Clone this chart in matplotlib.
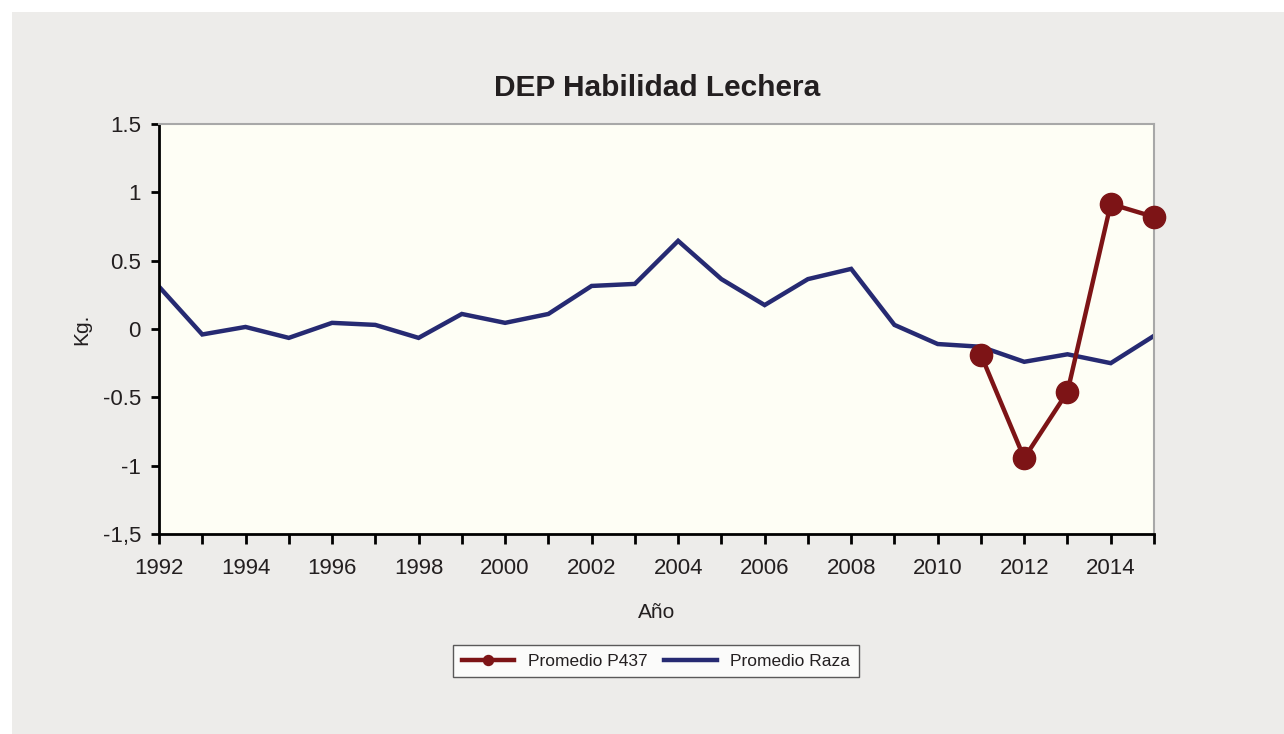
import matplotlib
matplotlib.use("Agg")
import matplotlib.pyplot as plt
from matplotlib.patches import Rectangle
from matplotlib.ticker import MultipleLocator

plt.rcParams['font.family'] = ['Liberation Sans', 'DejaVu Sans']

# datos
anios = list(range(1992, 2016))
promedio_raza = [0.31, -0.04, 0.015, -0.065, 0.045, 0.03, -0.065, 0.11, 0.045, 0.11,
                 0.315, 0.33, 0.645, 0.365, 0.175, 0.365, 0.44, 0.03, -0.11, -0.13,
                 -0.24, -0.185, -0.25, -0.05]
anios_p437 = [2011, 2012, 2013, 2014, 2015]
promedio_p437 = [-0.19, -0.945, -0.46, 0.915, 0.82]
yticks = [1.5, 1, 0.5, 0, -0.5, -1, -1.5]
ytick_labels = ["1.5", "1", "0.5", "0", "-0.5", "-1", "-1,5"]

rojo = '#7D1416'
azul = '#262A72'
texto = '#231F20'

fig = plt.figure(figsize=(12.84, 7.34), dpi=100, facecolor='white')
# fondo gris del recuadro
fig.patches.append(Rectangle((12 / 1284, 0), 1, 1 - 12 / 734, transform=fig.transFigure,
                             facecolor='#EDECEA', edgecolor='none', zorder=-10))

ax = fig.add_axes([159 / 1284, 1 - 534 / 734, 995 / 1284, 410 / 734])
ax.set_facecolor('#FEFEF5')

l1, = ax.plot(anios_p437, promedio_p437, color=rojo, lw=3.2, marker='o', ms=16,
              zorder=3, label='Promedio P437', clip_on=False)
l2, = ax.plot(anios, promedio_raza, color=azul, lw=3.2, zorder=2, label='Promedio Raza',
              solid_joinstyle='miter')

ax.set_xlim(1992, 2015)
ax.set_ylim(-1.5, 1.5)
ax.set_yticks(yticks)
ax.set_yticklabels(ytick_labels)
ax.xaxis.set_major_locator(MultipleLocator(2))
ax.xaxis.set_minor_locator(MultipleLocator(1))

for s in ['left', 'bottom']:
    ax.spines[s].set_color('black')
    ax.spines[s].set_linewidth(2)
for s in ['top', 'right']:
    ax.spines[s].set_color('#A8A8A8')
    ax.spines[s].set_linewidth(1.5)

ax.tick_params(axis='both', which='both', direction='out', width=2, color='black',
               labelsize=16, labelcolor=texto)
ax.tick_params(axis='y', length=6, pad=7)
ax.tick_params(axis='x', which='major', length=7, pad=10)
ax.tick_params(axis='x', which='minor', length=7)

fig.text(657 / 1284, 1 - 88 / 734, 'DEP Habilidad Lechera', ha='center', va='center',
         fontsize=21.5, fontweight='bold', color=texto)
fig.text(657 / 1284, 1 - 612 / 734, 'Año', ha='center', va='center', fontsize=15, color=texto)
fig.text(82 / 1284, 1 - 329 / 734, 'Kg.', ha='center', va='center', rotation=90,
         fontsize=15, color=texto)

leg = fig.legend(handles=[l1, l2], loc='center', bbox_to_anchor=(656 / 1284, 1 - 661 / 734),
                 ncol=2, fontsize=12.5, frameon=True, fancybox=False, markerscale=0.45,
                 handlelength=3.0, columnspacing=1.0, borderpad=0.5, labelcolor=texto)
leg.get_frame().set_edgecolor('#333333')
leg.get_frame().set_linewidth(1)
leg.get_frame().set_facecolor('white')

fig.savefig('out.png', dpi=100, facecolor=fig.get_facecolor())
